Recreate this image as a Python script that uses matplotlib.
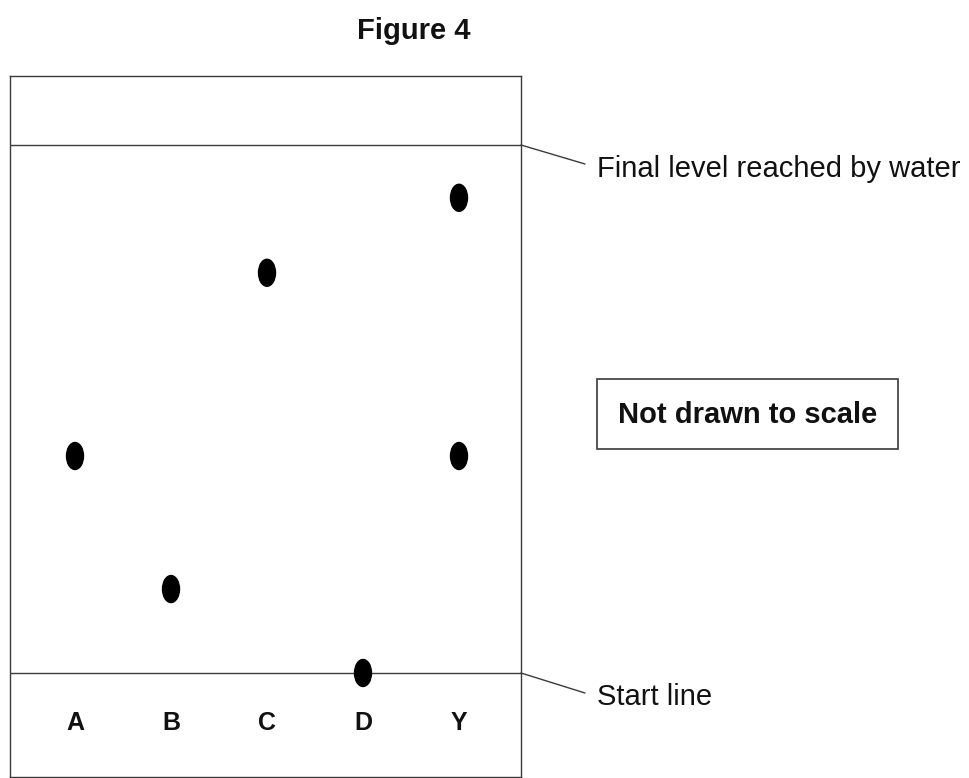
import matplotlib
matplotlib.use("Agg")
import matplotlib.pyplot as plt
from matplotlib.patches import Ellipse, Rectangle, ConnectionPatch

plt.rcParams['font.family'] = ['Liberation Sans', 'DejaVu Sans']

# ---- data ----
lanes = ["A", "B", "C", "D", "Y"]
# spots: (lane index, distance moved relative to solvent front: start=0, final=1)
spot_lane = [0, 1, 2, 3, 4, 4]
spot_rf = [0.411, 0.159, 0.758, 0.0, 0.900, 0.411]
start_level = 0.0
final_level = 1.0
title = "Figure 4"
final_label = "Final level reached by water"
start_label = "Start line"
note = "Not drawn to scale"

W, H = 969, 778
fig = plt.figure(figsize=(W / 100, H / 100), dpi=100)

def fx(x):
    return x / W

def fy(y):
    return 1 - y / H

# axes rectangle: image px x 10..521, y 76..777
ax = fig.add_axes([fx(10), fy(777), (521 - 10) / W, (777 - 76) / H])
lane_step = 96.0
lane0 = 75.0
px_per_unit = 528.0
y_start_px = 673.0
ax.set_xlim((10 - lane0) / lane_step, (521 - lane0) / lane_step)
ax.set_ylim((y_start_px - 777) / px_per_unit, (y_start_px - 76) / px_per_unit)
ax.set_xticks([])
ax.set_yticks([])
line_col = "#3a3a3a"
for s in ax.spines.values():
    s.set_color(line_col)
    s.set_linewidth(1.0)

ax.axhline(start_level, color=line_col, lw=1.0)
ax.axhline(final_level, color=line_col, lw=1.0)

dot_w = 17 / lane_step
dot_h = 27 / px_per_unit
for li, rf in zip(spot_lane, spot_rf):
    ax.add_patch(Ellipse((li, rf), dot_w, dot_h, color="black", zorder=5))

label_y = (y_start_px - 730) / px_per_unit
for i, lab in enumerate(lanes):
    ax.text(i, label_y, lab, ha="center", va="baseline", fontsize=18,
            fontweight="bold", color="#111111")

xmax = ax.get_xlim()[1]
# connectors
for lvl, yend, ytext, txt in [(final_level, 164, 177, final_label),
                              (start_level, 693, 705, start_label)]:
    con = ConnectionPatch(xyA=(xmax, lvl), coordsA=ax.transData,
                          xyB=(fx(585), fy(yend)), coordsB=fig.transFigure,
                          color=line_col, lw=1.0)
    fig.add_artist(con)
    fig.text(fx(597), fy(ytext), txt, ha="left", va="baseline", fontsize=21,
             color="#111111")

# note box
fig.add_artist(Rectangle((fx(597), fy(449)), (898 - 597) / W, (449 - 379) / H,
                         transform=fig.transFigure, fill=False,
                         edgecolor=line_col, lw=1.2))
fig.text(fx(747.5), fy(423), note, ha="center", va="baseline", fontsize=21,
         fontweight="bold", color="#111111")

fig.text(fx(414), fy(39), title, ha="center", va="baseline", fontsize=21,
         fontweight="bold", color="#111111")

fig.savefig("out.png", dpi=100, facecolor="white")
